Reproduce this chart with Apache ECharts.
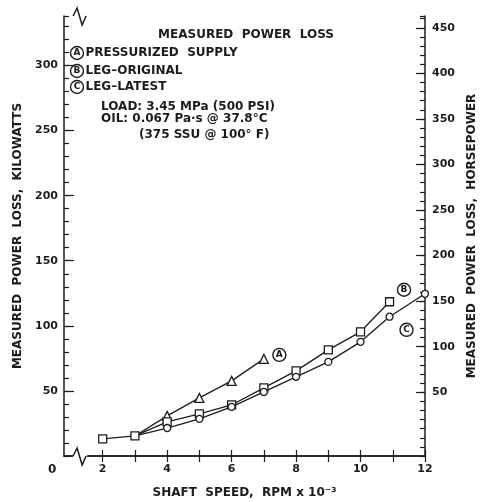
<!DOCTYPE html>
<html>
<head>
<meta charset="utf-8">
<style>html,body{margin:0;padding:0;background:#fff}#chart{width:484px;height:502px}</style>
<script src="https://cdn.jsdelivr.net/npm/echarts@6.0.0/dist/echarts.min.js"></script>
</head>
<body>
<div id="chart"></div>
<script>
// measured power loss vs shaft speed (kW)
const speedA = [3, 4, 5, 6, 7];
const lossA = [15.4, 30.8, 44.6, 57.7, 74.6];
const speedB = [2, 3, 4, 5, 6, 7, 8, 9, 10, 10.9];
const lossB = [13.1, 15.4, 26.2, 32.3, 39.2, 52.3, 65.4, 81.5, 95.4, 118.5];
const speedC = [3, 4, 5, 6, 7, 8, 9, 10, 10.9, 12];
const lossC = [15.4, 21.5, 28.5, 37.7, 49.2, 60.8, 72.3, 87.7, 107, 124.6];

const speedTicks = [2, 3, 4, 5, 6, 7, 8, 9, 10, 11, 12];
const speedLabels = [2, 4, 6, 8, 10, 12];
const kwLabels = [50, 100, 150, 200, 250, 300];
const hpLabels = [50, 100, 150, 200, 250, 300, 350, 400, 450];

const ink = '#1c1c1c';
const font = 'DejaVu Sans';
const txt = { color: ink, fontFamily: font, fontWeight: 'bold', fontSize: 11 };

// shared start points are drawn by B only
function pairs(xs, ys, hideFirst) {
    return xs.map((x, i) => (hideFirst && i === 0) ? { value: [x, ys[i]], symbol: 'none' } : [x, ys[i]]);
}

function circled(letter, offset) {
    return {
        show: true, formatter: '{c|' + letter + '}', distance: 0, offset: offset,
        rich: { c: { width: 13, height: 13, lineHeight: 13, borderRadius: 7, borderWidth: 1.4, borderColor: ink,
            align: 'center', color: ink, fontFamily: font, fontWeight: 'bold', fontSize: 9 } }
    };
}

function lineSeries(data, symbol, size, label) {
    return {
        type: 'line', data: data, symbol: symbol, symbolSize: size, clip: false, silent: true,
        itemStyle: { color: '#fff', borderColor: ink, borderWidth: 1.3 },
        lineStyle: { color: ink, width: 1.3 },
        endLabel: label
    };
}

const axisLine = { show: true, lineStyle: { color: ink, width: 1.5 } };
const tickStyle = { color: ink, width: 1.2 };
const nameStyle = { color: ink, fontFamily: font, fontWeight: 'bold', fontSize: 12 };

const chart = echarts.init(document.getElementById('chart'));
chart.setOption({
    animation: false,
    backgroundColor: '#fff',
    grid: { left: 64, right: 59, top: 16, bottom: 46, outerBoundsMode: 'none' },
    xAxis: [
        { type: 'value', min: 0.8, max: 12, position: 'bottom', axisLine: axisLine, splitLine: { show: false },
          axisTick: { inside: true, length: 6, customValues: speedTicks, lineStyle: tickStyle },
          axisLabel: Object.assign({ customValues: speedLabels, margin: 8 }, txt),
          name: 'SHAFT  SPEED,  RPM x 10⁻³', nameLocation: 'middle', nameGap: 31, nameTextStyle: nameStyle },
        { type: 'value', min: 0.8, max: 12, position: 'top', axisLine: axisLine, splitLine: { show: false },
          axisTick: { inside: true, length: 6, customValues: speedTicks, lineStyle: tickStyle },
          axisLabel: { show: false } }
    ],
    yAxis: [
        { type: 'value', min: 0, max: 338, position: 'left', axisLine: axisLine, splitLine: { show: false },
          axisTick: { inside: true, length: 10, customValues: kwLabels, lineStyle: tickStyle },
          axisLabel: Object.assign({ customValues: kwLabels, margin: 6 }, txt),
          name: 'MEASURED  POWER  LOSS,  KILOWATTS', nameLocation: 'middle', nameRotate: 90, nameGap: 38, nameTextStyle: nameStyle },
        { type: 'value', min: 0, max: 338, interval: 10, position: 'left', axisLine: { show: false }, splitLine: { show: false },
          axisTick: { inside: true, length: 5, lineStyle: tickStyle }, axisLabel: { show: false } },
        { type: 'value', min: -20, max: 463, position: 'right', axisLine: axisLine, splitLine: { show: false },
          axisTick: { inside: true, length: 9, customValues: hpLabels, lineStyle: tickStyle },
          axisLabel: Object.assign({ customValues: hpLabels, margin: 7 }, txt),
          name: 'MEASURED  POWER  LOSS,  HORSEPOWER', nameLocation: 'middle', nameRotate: 90, nameGap: 40, nameTextStyle: nameStyle },
        { type: 'value', min: -20, max: 463, interval: 10, position: 'right', axisLine: { show: false }, splitLine: { show: false },
          axisTick: { inside: true, length: 5, lineStyle: tickStyle }, axisLabel: { show: false } }
    ],
    series: [
        lineSeries(pairs(speedA, lossA, true), 'triangle', 9, circled('A', [9, -4])),
        lineSeries(pairs(speedB, lossB, false), 'rect', 8, circled('B', [8, -12])),
        lineSeries(pairs(speedC, lossC, true), 'circle', 7, circled('C', [-25, 36]))
    ]
});

// note block, origin label and axis breaks
const bx = chart.convertToPixel({ xAxisIndex: 0 }, 1.3);
const x0 = chart.convertToPixel({ xAxisIndex: 0 }, 0.8);
const yBot = chart.convertToPixel({ yAxisIndex: 0 }, 0);
const yTop = chart.convertToPixel({ yAxisIndex: 0 }, 338);
const bold12 = 'bold 12px "DejaVu Sans"';
const circleRich = {
    c: { width: 13, height: 13, lineHeight: 13, borderRadius: 7, borderWidth: 1.4, borderColor: ink,
         align: 'center', fill: ink, fontFamily: font, fontWeight: 'bold', fontSize: 9 },
    t: { fill: ink, fontFamily: font, fontWeight: 'bold', fontSize: 12, padding: [0, 0, 0, 2] }
};

function note(text, x, y, align) {
    return { type: 'text', z: 100, style: { text: text, x: x, y: y, fill: ink, font: bold12, textAlign: align || 'left', textVerticalAlign: 'middle' } };
}
function legendRow(letter, label, y) {
    return { type: 'text', z: 100, style: { text: '{c|' + letter + '}{t|' + label + '}', x: 70.5, y: y, rich: circleRich, textVerticalAlign: 'middle' } };
}
function zig(y) {
    return [
        { type: 'line', z: 100, shape: { x1: bx - 7, y1: y, x2: bx + 7, y2: y }, style: { stroke: '#fff', lineWidth: 3 } },
        { type: 'polyline', z: 101, shape: { points: [[bx - 7, y], [bx - 3, y - 8], [bx + 2, y + 9], [bx + 6, y]] },
          style: { stroke: ink, lineWidth: 1.5, fill: null } }
    ];
}

chart.setOption({
    graphic: [
        note('MEASURED  POWER  LOSS', 246, 35, 'center'),
        legendRow('A', 'PRESSURIZED  SUPPLY', 53),
        legendRow('B', 'LEG–ORIGINAL', 71),
        legendRow('C', 'LEG–LATEST', 87),
        note('LOAD: 3.45 MPa (500 PSI)', 101, 107),
        note('OIL: 0.067 Pa·s @ 37.8°C', 101, 119),
        note('(375 SSU @ 100° F)', 139, 135),
        note('0', x0 - 16, yBot + 14),
        ...zig(yBot),
        ...zig(yTop)
    ]
});
</script>
</body>
</html>
